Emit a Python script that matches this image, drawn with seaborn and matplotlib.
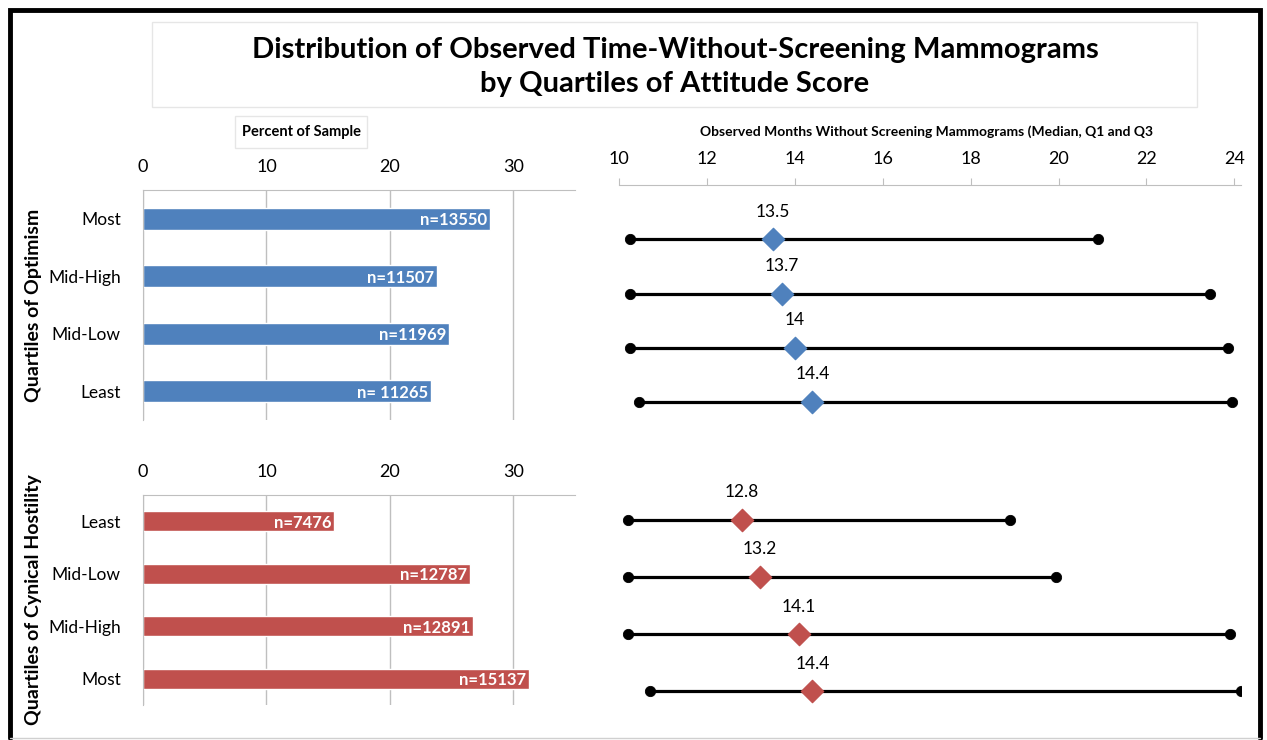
import matplotlib
matplotlib.use("Agg")
import matplotlib.pyplot as plt
from matplotlib.lines import Line2D
from matplotlib.patches import Rectangle
import seaborn as sns

# data
opt_cats = ["Most", "Mid-High", "Mid-Low", "Least"]
opt_pct = [28.1, 23.8, 24.8, 23.3]
opt_n = ["n=13550", "n=11507", "n=11969", "n= 11265"]
opt_q1 = [10.25, 10.25, 10.25, 10.45]
opt_med = [13.5, 13.7, 14.0, 14.4]
opt_q3 = [20.9, 23.45, 23.85, 23.95]

cyn_cats = ["Least", "Mid-Low", "Mid-High", "Most"]
cyn_pct = [15.5, 26.5, 26.7, 31.3]
cyn_n = ["n=7476", "n=12787", "n=12891", "n=15137"]
cyn_q1 = [10.2, 10.2, 10.2, 10.7]
cyn_med = [12.8, 13.2, 14.1, 14.4]
cyn_q3 = [18.9, 19.95, 23.9, 24.15]

pct_ticks = [0, 10, 20, 30]
month_ticks = [10, 12, 14, 16, 18, 20, 22, 24]

BLUE = "#4F81BD"
RED = "#C0504D"
GRID = "#BFBFBF"

sns.set_style("white")
plt.rcParams["font.family"] = ["Lato", "DejaVu Sans"]
plt.rcParams["text.color"] = "black"
plt.rcParams["axes.labelcolor"] = "black"
plt.rcParams["xtick.labelcolor"] = "black"
plt.rcParams["ytick.labelcolor"] = "black"

W, H = 1267, 740
fig = plt.figure(figsize=(W / 100, H / 100), dpi=100)


def px_axes(l, t, r, b):
    return fig.add_axes([l / W, 1 - b / H, (r - l) / W, (b - t) / H])


def px_box(l, t, r, b, **kw):
    fig.patches.append(Rectangle((l / W, 1 - b / H), (r - l) / W, (b - t) / H,
                                 transform=fig.transFigure, fill=False, **kw))


def px_line(xs, ys, **kw):
    fig.lines.append(Line2D([x / W for x in xs], [1 - y / H for y in ys],
                            transform=fig.transFigure, **kw))


# outer frame: black on three sides, light grey at the bottom
px_line([10, 10, 1260, 1260], [738, 10, 10, 738], color="black", linewidth=3.5,
        solid_joinstyle="miter")
px_line([10, 1260], [738, 738], color="#D0D0D0", linewidth=1)

# title box
px_box(152, 22, 1197, 107, edgecolor="#E6E6E6", linewidth=1)
fig.text(675 / W, 1 - 67 / H,
         "Distribution of Observed Time-Without-Screening Mammograms\nby Quartiles of Attitude Score",
         ha="center", va="center", fontsize=21, fontweight="bold", linespacing=1.35)
px_box(235, 116, 367, 148, edgecolor="#E6E6E6", linewidth=1)
fig.text(301 / W, 1 - 132 / H, "Percent of Sample", ha="center", va="center",
         fontsize=10.5, fontweight="bold")
fig.text(927 / W, 1 - 132 / H,
         "Observed Months Without Screening Mammograms (Median, Q1 and Q3",
         ha="center", va="center", fontsize=10, fontweight="bold")


def bar_panel(ax, cats, pct, labels, color, ylabel):
    sns.barplot(x=pct, y=cats, orient="h", color=color, saturation=1,
                width=0.38, ax=ax)
    ax.set_xlim(0, 35)
    ax.set_ylim(3.5, -0.5)
    ax.set_xticks(pct_ticks)
    ax.xaxis.tick_top()
    ax.tick_params(axis="x", length=0, pad=11, labelsize=13)
    ax.tick_params(axis="y", length=0, pad=16, labelsize=12.5)
    ax.grid(axis="x", color=GRID, linewidth=1)
    ax.set_axisbelow(True)
    for s in ["right", "bottom"]:
        ax.spines[s].set_visible(False)
    for s in ["top", "left"]:
        ax.spines[s].set_color(GRID)
    ax.set_xlabel("")
    ax.set_ylabel(ylabel, fontsize=14, fontweight="bold", labelpad=4)
    for i, (v, lab) in enumerate(zip(pct, labels)):
        ax.annotate(lab, (v, i), xytext=(-2, -1), textcoords="offset points",
                    ha="right", va="center", color="white", fontsize=12,
                    fontweight="bold")


def range_panel(ax, cats, q1, med, q3, color, show_axis):
    ys = list(range(len(cats)))
    ax.hlines(ys, q1, q3, color="black", linewidth=2.3, zorder=2)
    sns.scatterplot(x=q1 + q3, y=ys + ys, color="black", s=55,
                    edgecolor="black", ax=ax, zorder=3)
    sns.scatterplot(x=med, y=ys, color=color, marker="D", s=130,
                    edgecolor=color, ax=ax, zorder=4)
    for y, m in zip(ys, med):
        ax.annotate(f"{m:g}", (m, y), xytext=(0, 20), textcoords="offset points",
                    ha="center", va="center", fontsize=12.5)
    ax.set_xlim(10, 24.15)
    ax.set_yticks([])
    ax.set_xlabel("")
    ax.set_ylabel("")
    for s in ["right", "bottom", "left"]:
        ax.spines[s].set_visible(False)
    if show_axis:
        ax.set_xticks(month_ticks)
        ax.xaxis.tick_top()
        ax.tick_params(axis="x", length=5, color=GRID, pad=8, labelsize=13)
        ax.spines["top"].set_color(GRID)
    else:
        ax.set_xticks([])
        ax.spines["top"].set_visible(False)


ax1 = px_axes(143, 190, 575, 420)
bar_panel(ax1, opt_cats, opt_pct, opt_n, BLUE, "Quartiles of Optimism")

ax2 = px_axes(143, 495, 575, 705)
bar_panel(ax2, cyn_cats, cyn_pct, cyn_n, RED, "Quartiles of Cynical Hostility")

ax3 = px_axes(619, 185, 1241, 432)
range_panel(ax3, opt_cats, opt_q1, opt_med, opt_q3, BLUE, True)
ax3.set_ylim(3.55, -1.0)

ax4 = px_axes(619, 463, 1241, 720)
range_panel(ax4, cyn_cats, cyn_q1, cyn_med, cyn_q3, RED, False)
ax4.set_ylim(3.5, -1.0)

fig.savefig("out.png", dpi=100, facecolor="white")
